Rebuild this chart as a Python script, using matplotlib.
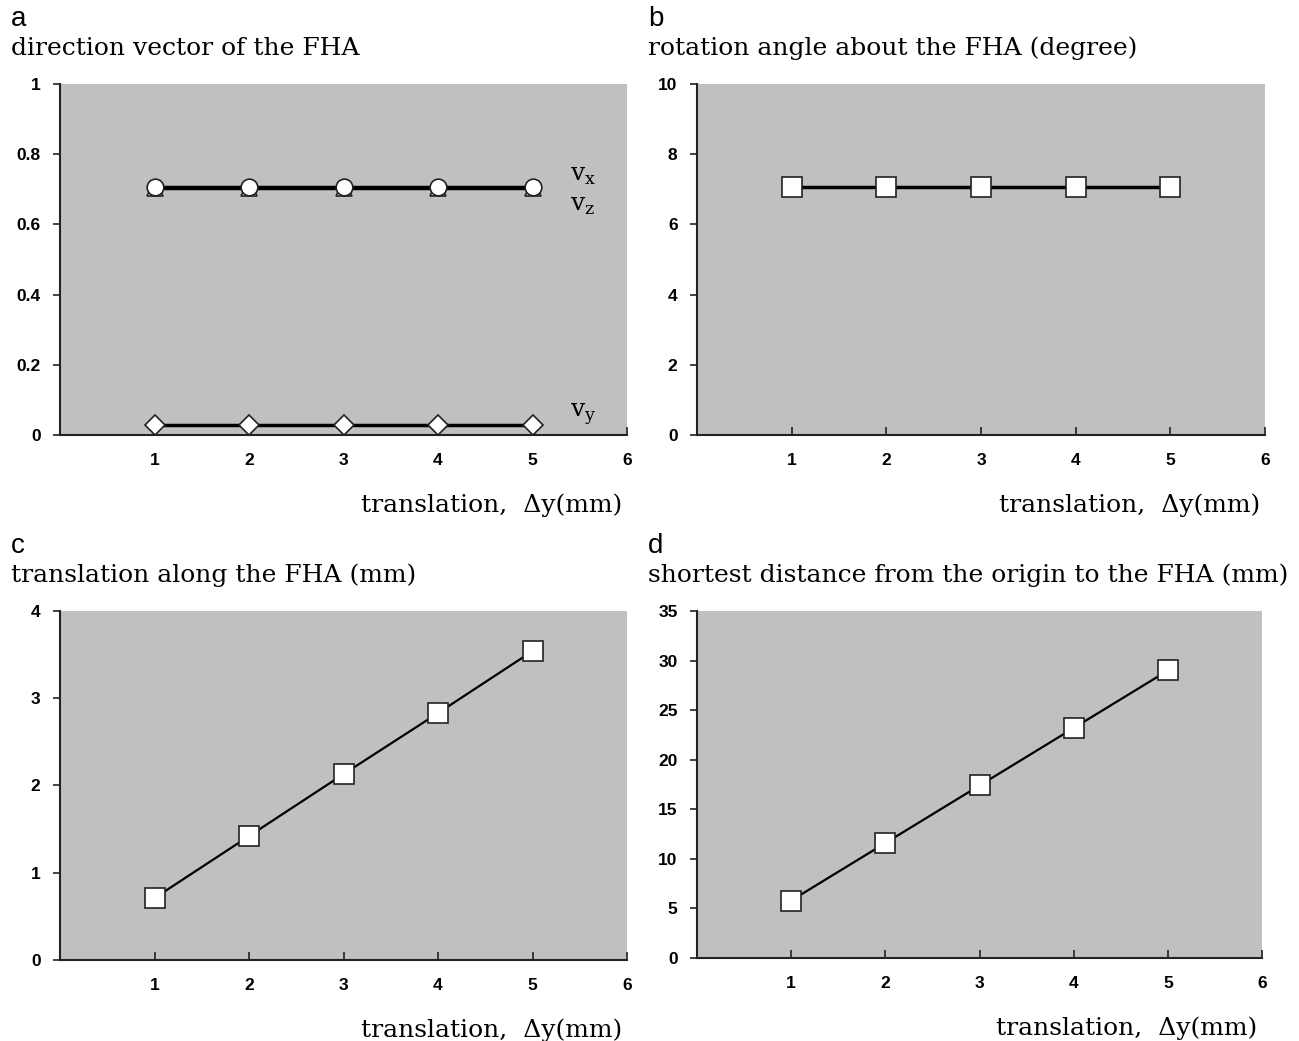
import matplotlib
matplotlib.use("Agg")
import matplotlib.pyplot as plt

# data
dy = [1, 2, 3, 4, 5]
vx = [0.707, 0.707, 0.707, 0.707, 0.707]
vz = [0.703, 0.703, 0.703, 0.703, 0.703]
vy = [0.03, 0.03, 0.03, 0.03, 0.03]
rot_angle = [7.07, 7.07, 7.07, 7.07, 7.07]
trans_along = [0.71, 1.42, 2.13, 2.83, 3.54]
shortest_dist = [5.8, 11.6, 17.4, 23.2, 29.0]

serif = ["DejaVu Serif"]
tickfont = ["Liberation Sans Narrow", "Liberation Sans", "DejaVu Sans"]

fig = plt.figure(figsize=(12.99, 10.41), dpi=100)

# axes positions in figure fractions (left, bottom, width, height)
positions = {
    "a": [0.0462, 0.5821, 0.4365, 0.3372],
    "b": [0.5366, 0.5821, 0.4373, 0.3372],
    "c": [0.0462, 0.0778, 0.4365, 0.3353],
    "d": [0.5366, 0.0797, 0.4350, 0.3334],
}
titles = {
    "a": "direction vector of the FHA",
    "b": "rotation angle about the FHA (degree)",
    "c": "translation along the FHA (mm)",
    "d": "shortest distance from the origin to the FHA (mm)",
}
ylims = {"a": (0, 1), "b": (0, 10), "c": (0, 4), "d": (0, 35)}
yticks = {
    "a": [0, 0.2, 0.4, 0.6, 0.8, 1],
    "b": [0, 2, 4, 6, 8, 10],
    "c": [0, 1, 2, 3, 4],
    "d": [0, 5, 10, 15, 20, 25, 30, 35],
}
ylabels = {
    "a": ["0", "0.2", "0.4", "0.6", "0.8", "1"],
    "b": ["0", "2", "4", "6", "8", "10"],
    "c": ["0", "1", "2", "3", "4"],
    "d": ["0", "5", "10", "15", "20", "25", "30", "35"],
}

axes = {}
for key in ["a", "b", "c", "d"]:
    ax = fig.add_axes(positions[key])
    axes[key] = ax
    ax.set_facecolor("#c0c0c0")
    ax.set_xlim(0, 6)
    ax.set_ylim(*ylims[key])
    ax.set_xticks([1, 2, 3, 4, 5, 6])
    ax.set_xticklabels(["1", "2", "3", "4", "5", "6"], fontfamily=tickfont,
                       fontweight="bold", fontsize=12.5)
    ax.set_yticks(yticks[key])
    ax.set_yticklabels(ylabels[key], fontfamily=tickfont, fontweight="bold",
                       fontsize=12.5)
    ax.tick_params(axis="x", direction="in", length=6, width=1.2, pad=13,
                   colors="#222222")
    ax.tick_params(axis="y", direction="out", length=5, width=1.2, pad=9,
                   colors="#222222")
    ax.tick_params(labelcolor="black")
    ax.spines["top"].set_visible(False)
    ax.spines["right"].set_visible(False)
    for s in ["left", "bottom"]:
        ax.spines[s].set_linewidth(1.5)
        ax.spines[s].set_color("#222222")
    # panel letter and title
    bb = positions[key]
    fig.text(bb[0] - 0.0375, bb[1] + bb[3] + 0.050, key, fontsize=20,
             fontfamily=["Liberation Sans", "DejaVu Sans"], va="bottom", ha="left")
    fig.text(bb[0] - 0.0375, bb[1] + bb[3] + 0.023, titles[key], fontsize=18,
             fontfamily=serif, va="bottom", ha="left")
    fig.text(bb[0] + bb[2] - 0.004, bb[1] - 0.067, "translation,  \u0394y(mm)",
             fontsize=18, fontfamily=serif, ha="right", va="center")

# panel a
ax = axes["a"]
ax.plot(dy, vz, color="black", lw=2.5, marker="^", ms=11, mfc="white",
        mec="#222222", mew=1.2, zorder=3)
ax.plot(dy, vx, color="black", lw=2.5, marker="o", ms=12, mfc="white",
        mec="#222222", mew=1.2, zorder=4)
ax.plot(dy, vy, color="black", lw=2.5, marker="D", ms=10, mfc="white",
        mec="#222222", mew=1.2, zorder=4)
ax.text(5.4, 0.738, "v$_\\mathregular{x}$", fontsize=18, fontfamily=serif, va="center")
ax.text(5.4, 0.655, "v$_\\mathregular{z}$", fontsize=18, fontfamily=serif, va="center")
ax.text(5.4, 0.06, "v$_\\mathregular{y}$", fontsize=18, fontfamily=serif, va="center")

# panel b
axes["b"].plot(dy, rot_angle, color="black", lw=2.5, marker="s", ms=15,
               mfc="white", mec="#222222", mew=1.2)

# panel c
axes["c"].plot(dy, trans_along, color="black", lw=1.6, marker="s", ms=15,
               mfc="white", mec="#222222", mew=1.2)

# panel d
axes["d"].plot(dy, shortest_dist, color="black", lw=1.6, marker="s", ms=15,
               mfc="white", mec="#222222", mew=1.2)

plt.savefig("out.png", dpi=100)
